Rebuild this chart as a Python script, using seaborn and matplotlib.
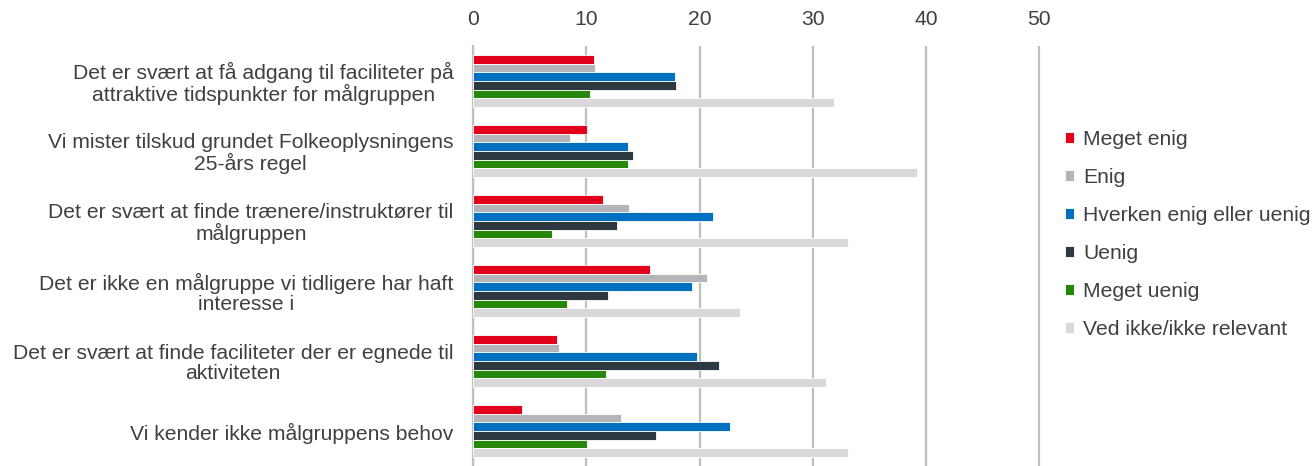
import pandas as pd
import matplotlib
matplotlib.use("Agg")
import matplotlib.pyplot as plt
import seaborn as sns

# udsagn (y-akse)
udsagn = [
    "Det er svært at få adgang til faciliteter på\nattraktive tidspunkter for målgruppen",
    "Vi mister tilskud grundet Folkeoplysningens\n25-års regel",
    "Det er svært at finde trænere/instruktører til\nmålgruppen",
    "Det er ikke en målgruppe vi tidligere har haft\ninteresse i",
    "Det er svært at finde faciliteter der er egnede til\naktiviteten",
    "Vi kender ikke målgruppens behov",
]
svar = ["Meget enig", "Enig", "Hverken enig eller uenig", "Uenig",
        "Meget uenig", "Ved ikke/ikke relevant"]

meget_enig = [10.7, 10.1, 11.5, 15.6, 7.4, 4.3]
enig = [10.8, 8.6, 13.8, 20.7, 7.6, 13.1]
hverken = [17.8, 13.7, 21.2, 19.3, 19.8, 22.7]
uenig = [17.9, 14.1, 12.7, 11.9, 21.7, 16.2]
meget_uenig = [10.3, 13.7, 7.0, 8.3, 11.7, 10.1]
ved_ikke = [31.9, 39.2, 33.1, 23.6, 31.2, 33.1]

farver = ["#E2001A", "#B3B5B8", "#0070C0", "#2E3840", "#27870B", "#D9D9D9"]
xticks = [0, 10, 20, 30, 40, 50]

serier = [meget_enig, enig, hverken, uenig, meget_uenig, ved_ikke]
rows = []
for navn, vals in zip(svar, serier):
    for u, v in zip(udsagn, vals):
        rows.append({"udsagn": u, "svar": navn, "pct": v})
df = pd.DataFrame(rows)

sns.set_style("white")
plt.rcParams["font.family"] = ["Liberation Sans", "DejaVu Sans"]
tekst = "#404040"
fs = 15.2

fig = plt.figure(figsize=(13.14, 4.66), dpi=100)
ax = fig.add_axes([473 / 1314, 0.0, (1041 - 473) / 1314, 1 - 46 / 466])

sns.barplot(data=df, y="udsagn", x="pct", hue="svar", order=udsagn,
            hue_order=svar, palette=farver, saturation=1, orient="h",
            width=0.74, edgecolor="white", linewidth=0.6, ax=ax, zorder=3)

ax.set_xlim(0, 50.15)
ax.set_xticks(xticks)
ax.xaxis.tick_top()
ax.tick_params(axis="x", length=0, labelsize=fs, labelcolor=tekst, pad=12)
ax.tick_params(axis="y", length=0, labelsize=fs, labelcolor=tekst, pad=14)
for lab in ax.get_yticklabels():
    lab.set_multialignment("center")
    lab.set_linespacing(1.05)
ax.set_xlabel("")
ax.set_ylabel("")
ax.grid(axis="x", color="#BDBFC1", linewidth=1.6, zorder=0)
ax.set_axisbelow(True)
for s in ["top", "right", "bottom"]:
    ax.spines[s].set_visible(False)
ax.spines["left"].set_color("#BDBFC1")
ax.spines["left"].set_linewidth(1.6)

h, l = ax.get_legend_handles_labels()
ax.legend(h, l, loc="center left", bbox_to_anchor=(1046 / 1314, 0.497),
          bbox_transform=fig.transFigure, frameon=False, fontsize=fs,
          handlelength=0.42, handleheight=0.42, handletextpad=0.45,
          labelspacing=0.9, labelcolor=tekst)

fig.savefig("out.png", dpi=100)
